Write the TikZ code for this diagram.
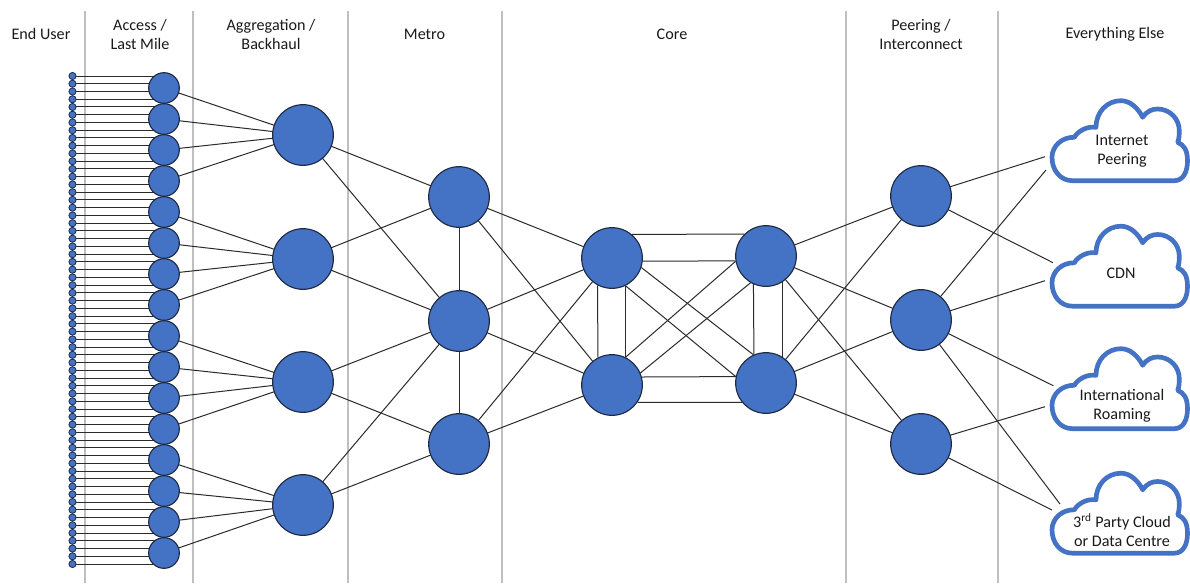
\documentclass[tikz,border=0pt]{standalone}
\usepackage{fontspec}
\setmainfont{Carlito}
\usetikzlibrary{backgrounds}
\definecolor{nodeblue}{HTML}{4472C4}
\definecolor{nodeedge}{HTML}{1F2A44}
\definecolor{linkc}{HTML}{2B2B2B}
\definecolor{sepc}{HTML}{BFBFBF}
\definecolor{txtc}{HTML}{1A1A1A}
\tikzset{
  hub/.style={circle,draw=nodeedge,fill=nodeblue,line width=0.85pt,inner sep=0pt,minimum size=#1},
  bigA/.style={hub=45.5pt},
  smallA/.style={hub=23pt},
  userdot/.style={circle,draw=nodeedge,fill=nodeblue,line width=0.6pt,inner sep=0pt,minimum size=5.4pt},
  link/.style={draw=linkc,line width=0.75pt},
  sep/.style={draw=sepc,line width=1.1pt},
  lbl/.style={font=\fontsize{12.1pt}{14.25pt}\selectfont,text=txtc,align=center,inner sep=0pt},
  cloudline/.style={draw=nodeblue,line width=3.5pt,line join=round,fill=white}
}
\newcommand{\cloudpath}[2]{%
  \draw[cloudline,shift={(#1,#2)}] (22.7,81.7) .. controls (10,81.7) and (2,71) .. (2,58.3)
    .. controls (2,47) and (12,38) .. (24.3,38.3)
    .. controls (28,32) and (37,27) .. (46,28.3)
    .. controls (46,13) and (57,1.7) .. (71,1.7)
    .. controls (80,1.7) and (88,9) .. (92.7,18.3)
    .. controls (97,12) and (102,10) .. (107.7,10)
    .. controls (120,10) and (129.3,20) .. (129.3,31.7)
    .. controls (129.3,36) and (129,40) .. (127.7,43.3)
    .. controls (134,46) and (137.5,51) .. (137.5,62)
    .. controls (137.5,73) and (133,81.7) .. (124.3,81.7) -- cycle;}
\begin{document}
\begin{tikzpicture}[x=0.75pt,y=-0.75pt]
\useasboundingbox (0,0) rectangle (1190,583);
% column labels
\node[lbl] (t1) at (41,34) {End User};
\node[lbl] (t2) at (140,34) {Access /\\Last Mile};
\node[lbl] (t3) at (271,34) {Aggregation /\\Backhaul};
\node[lbl] (t4) at (424.5,34) {Metro};
\node[lbl] (t5) at (672,34) {Core};
\node[lbl] (t6) at (921,34) {Peering /\\Interconnect};
\node[lbl] (t7) at (1115,34) {Everything Else};
% end users
\foreach \i in {0,...,63}{
  \pgfmathsetmacro{\yy}{76+7.746*\i}
  \node[userdot] (u\i) at (72.5,\yy) {};
}
% access
\foreach \i in {0,...,15}{
  \pgfmathsetmacro{\yy}{88+31*\i}
  \node[smallA] (a\i) at (164,\yy) {};
}
% aggregation
\node[bigA] (g0) at (303,135) {};
\node[bigA] (g1) at (303,259) {};
\node[bigA] (g2) at (303,382) {};
\node[bigA] (g3) at (303,505) {};
% metro
\node[bigA] (m1) at (459,197) {};
\node[bigA] (m2) at (459,321) {};
\node[bigA] (m3) at (459,444) {};
% core
\node[bigA] (c1) at (612,258) {};
\node[bigA] (c2) at (612,385) {};
\node[bigA] (c3) at (766,256) {};
\node[bigA] (c4) at (766,383) {};
% peering
\node[bigA] (p1) at (921,196) {};
\node[bigA] (p2) at (921,320) {};
\node[bigA] (p3) at (921,444) {};
% clouds
\cloudpath{1050}{99}
\cloudpath{1050}{224.5}
\cloudpath{1050}{347}
\cloudpath{1050}{471.5}
\node[lbl] (k1) at (1122,151.5) {Internet\\Peering};
\node[lbl] (k2) at (1121,273.5) {CDN};
\node[lbl] (k3) at (1122,405.5) {International\\Roaming};
\node[lbl] (k4) at (1122,530) {3\textsuperscript{rd} Party Cloud\\or Data Centre};
% free ends at the clouds
\coordinate (e1a) at (1045,156.7);
\coordinate (e1b) at (1046,170);
\coordinate (e2a) at (1053,262.7);
\coordinate (e2b) at (1045,280.7);
\coordinate (e3a) at (1053.3,385.7);
\coordinate (e3b) at (1045,406.7);
\coordinate (e4a) at (1060,504);
\coordinate (e4b) at (1052,510);
% separator ends
\foreach \n/\x in {1/85,2/193,3/348,4/502,5/846,6/998}{
  \coordinate (st\n) at (\x,11);
  \coordinate (sb\n) at (\x,583);
}
\begin{pgfonlayer}{background}
\fill[white] (0,0) rectangle (1190,583);
\foreach \n in {1,...,6}{\draw[sep] (st\n) -- (sb\n);}
% user to access
\foreach \i in {0,...,63}{
  \pgfmathtruncatemacro{\g}{int(\i/4)}
  \draw[link] (u\i.center) -- (u\i -| a\g.center);
}
% access to aggregation
\foreach \i in {0,...,15}{
  \pgfmathtruncatemacro{\g}{int(\i/4)}
  \draw[link] (a\i.center) -- (g\g.center);
}
% aggregation to metro
\foreach \a/\b in {g0/m1,g0/m2,g1/m1,g1/m2,g2/m2,g2/m3,g3/m2,g3/m3,m1/m2,m2/m3,
  m1/c1,m1/c2,m2/c1,m2/c2,m3/c1,m3/c2,
  c3/p1,c3/p2,c3/p3,c4/p1,c4/p2,c4/p3}{
  \draw[link] (\a.center) -- (\b.center);
}
% core mesh
\draw[link] (c1.50) -- (c3.135.6);
\draw[link] (c1.-6) -- (c3.189.6);
\draw[link] (c2.15.5) -- (c4.168.5);
\draw[link] (c2.-34.5) -- (c4.219);
\draw[link] (c1.242) -- (c2.117.8);
\draw[link] (c1.-65.4) -- (c2.65.4);
\draw[link] (c3.246.4) -- (c4.113.6);
\draw[link] (c3.-58.4) -- (c4.58.4);
\draw[link] (c1.-18) -- (c4.114.5);
\draw[link] (c1.-64) -- (c4.168);
\draw[link] (c3.190.8) -- (c2.64.5);
\draw[link] (c3.240) -- (c2.23.6);
% peering to clouds
\draw[link] (p1.center) -- (e1a);
\draw[link] (p1.center) -- (e2a);
\draw[link] (p2.center) -- (e1b);
\draw[link] (p2.center) -- (e2b);
\draw[link] (p2.center) -- (e3a);
\draw[link] (p2.center) -- (e4a);
\draw[link] (p3.center) -- (e3b);
\draw[link] (p3.center) -- (e4b);
\end{pgfonlayer}
\end{tikzpicture}
\end{document}
